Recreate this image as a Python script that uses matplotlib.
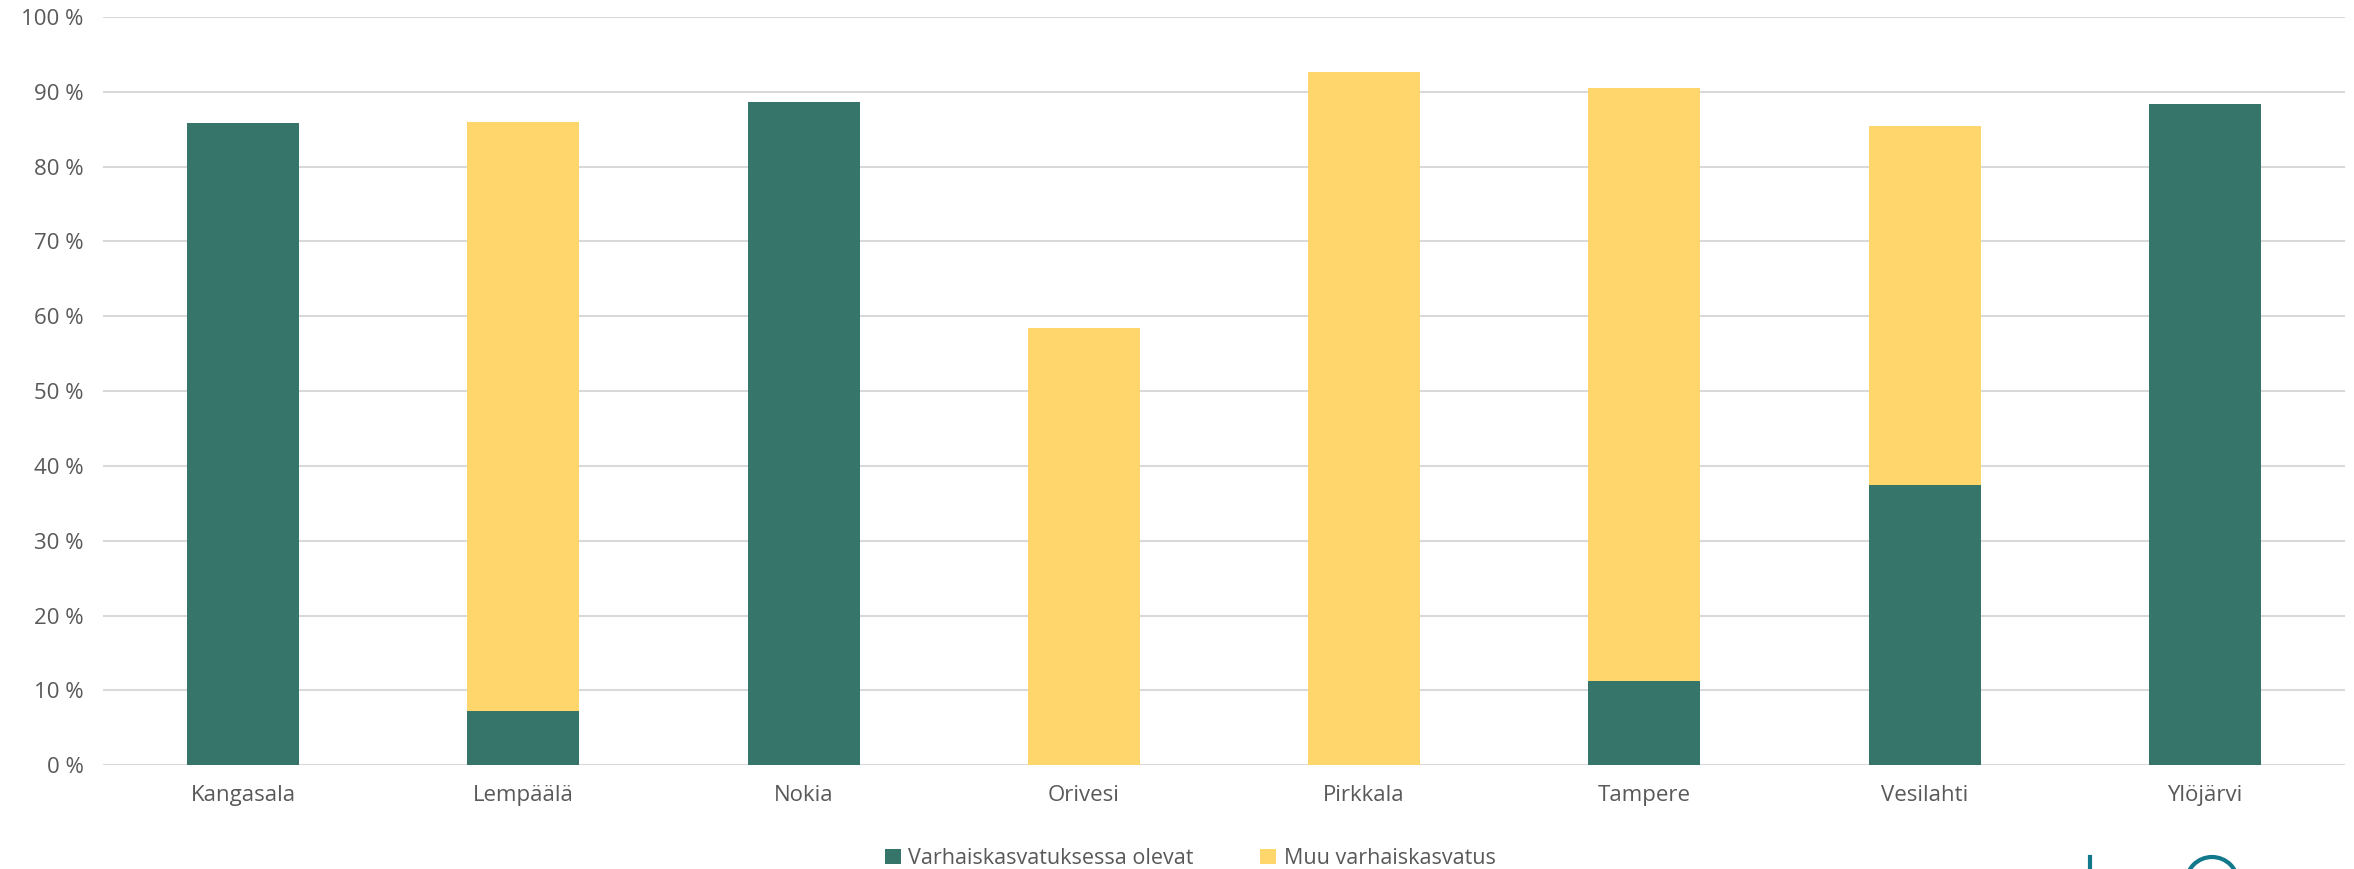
import numpy as np
import matplotlib
matplotlib.use("Agg")
import matplotlib.pyplot as plt
from matplotlib.lines import Line2D
from matplotlib.patches import Ellipse

plt.rcParams["font.family"] = ["Open Sans", "DejaVu Sans"]

municipalities = ["Kangasala", "Lempäälä", "Nokia", "Orivesi", "Pirkkala",
                  "Tampere", "Vesilahti", "Ylöjärvi"]
in_ecec = [85.9, 7.2, 88.6, 0.0, 0.0, 11.2, 37.4, 88.4]
other_ecec = [0.0, 78.8, 0.0, 58.5, 92.7, 79.3, 48.0, 0.0]
series_names = ["Varhaiskasvatuksessa olevat", "Muu varhaiskasvatus"]
y_ticks = list(range(0, 101, 10))

green = "#36766a"
yellow = "#ffd66b"
text_col = "#595959"

fig = plt.figure(figsize=(23.54, 8.69), dpi=100)
ax = fig.add_axes([103 / 2354, 103.7 / 869, (2345 - 103) / 2354, 748.3 / 869])

x = np.arange(len(municipalities))
ax.bar(x, in_ecec, width=0.4, color=green, label=series_names[0], zorder=3)
ax.bar(x, other_ecec, width=0.4, bottom=in_ecec, color=yellow,
       label=series_names[1], zorder=3)

ax.set_xlim(-0.5, len(municipalities) - 0.5)
ax.set_ylim(0, 100)
ax.set_yticks(y_ticks)
ax.set_yticklabels([f"{t} %" for t in y_ticks])
ax.set_xticks(x)
ax.set_xticklabels(municipalities)
ax.tick_params(axis="both", length=0, labelsize=16, labelcolor=text_col)
ax.tick_params(axis="x", pad=14)
ax.tick_params(axis="y", pad=14)
ax.grid(axis="y", color="#d9d9d9", linewidth=1.5, zorder=0)
for s in ax.spines.values():
    s.set_visible(False)

fig.legend(loc="center", bbox_to_anchor=(0.5056, 0.012), ncol=2, frameon=False,
           fontsize=15.5, labelcolor=text_col, handlelength=0.75, handleheight=0.75,
           handletextpad=0.35, columnspacing=3.1)

# partial logo in the bottom-right corner
fig.add_artist(Line2D([2090 / 2354, 2090 / 2354], [0, 12 / 869],
                      transform=fig.transFigure, color="#12798c", linewidth=3))
fig.add_artist(Ellipse((2212 / 2354, -14 / 869), 52 / 2354, 52 / 869,
                       transform=fig.transFigure, fill=False,
                       edgecolor="#12798c", linewidth=3))

fig.savefig("out.png", dpi=100)
